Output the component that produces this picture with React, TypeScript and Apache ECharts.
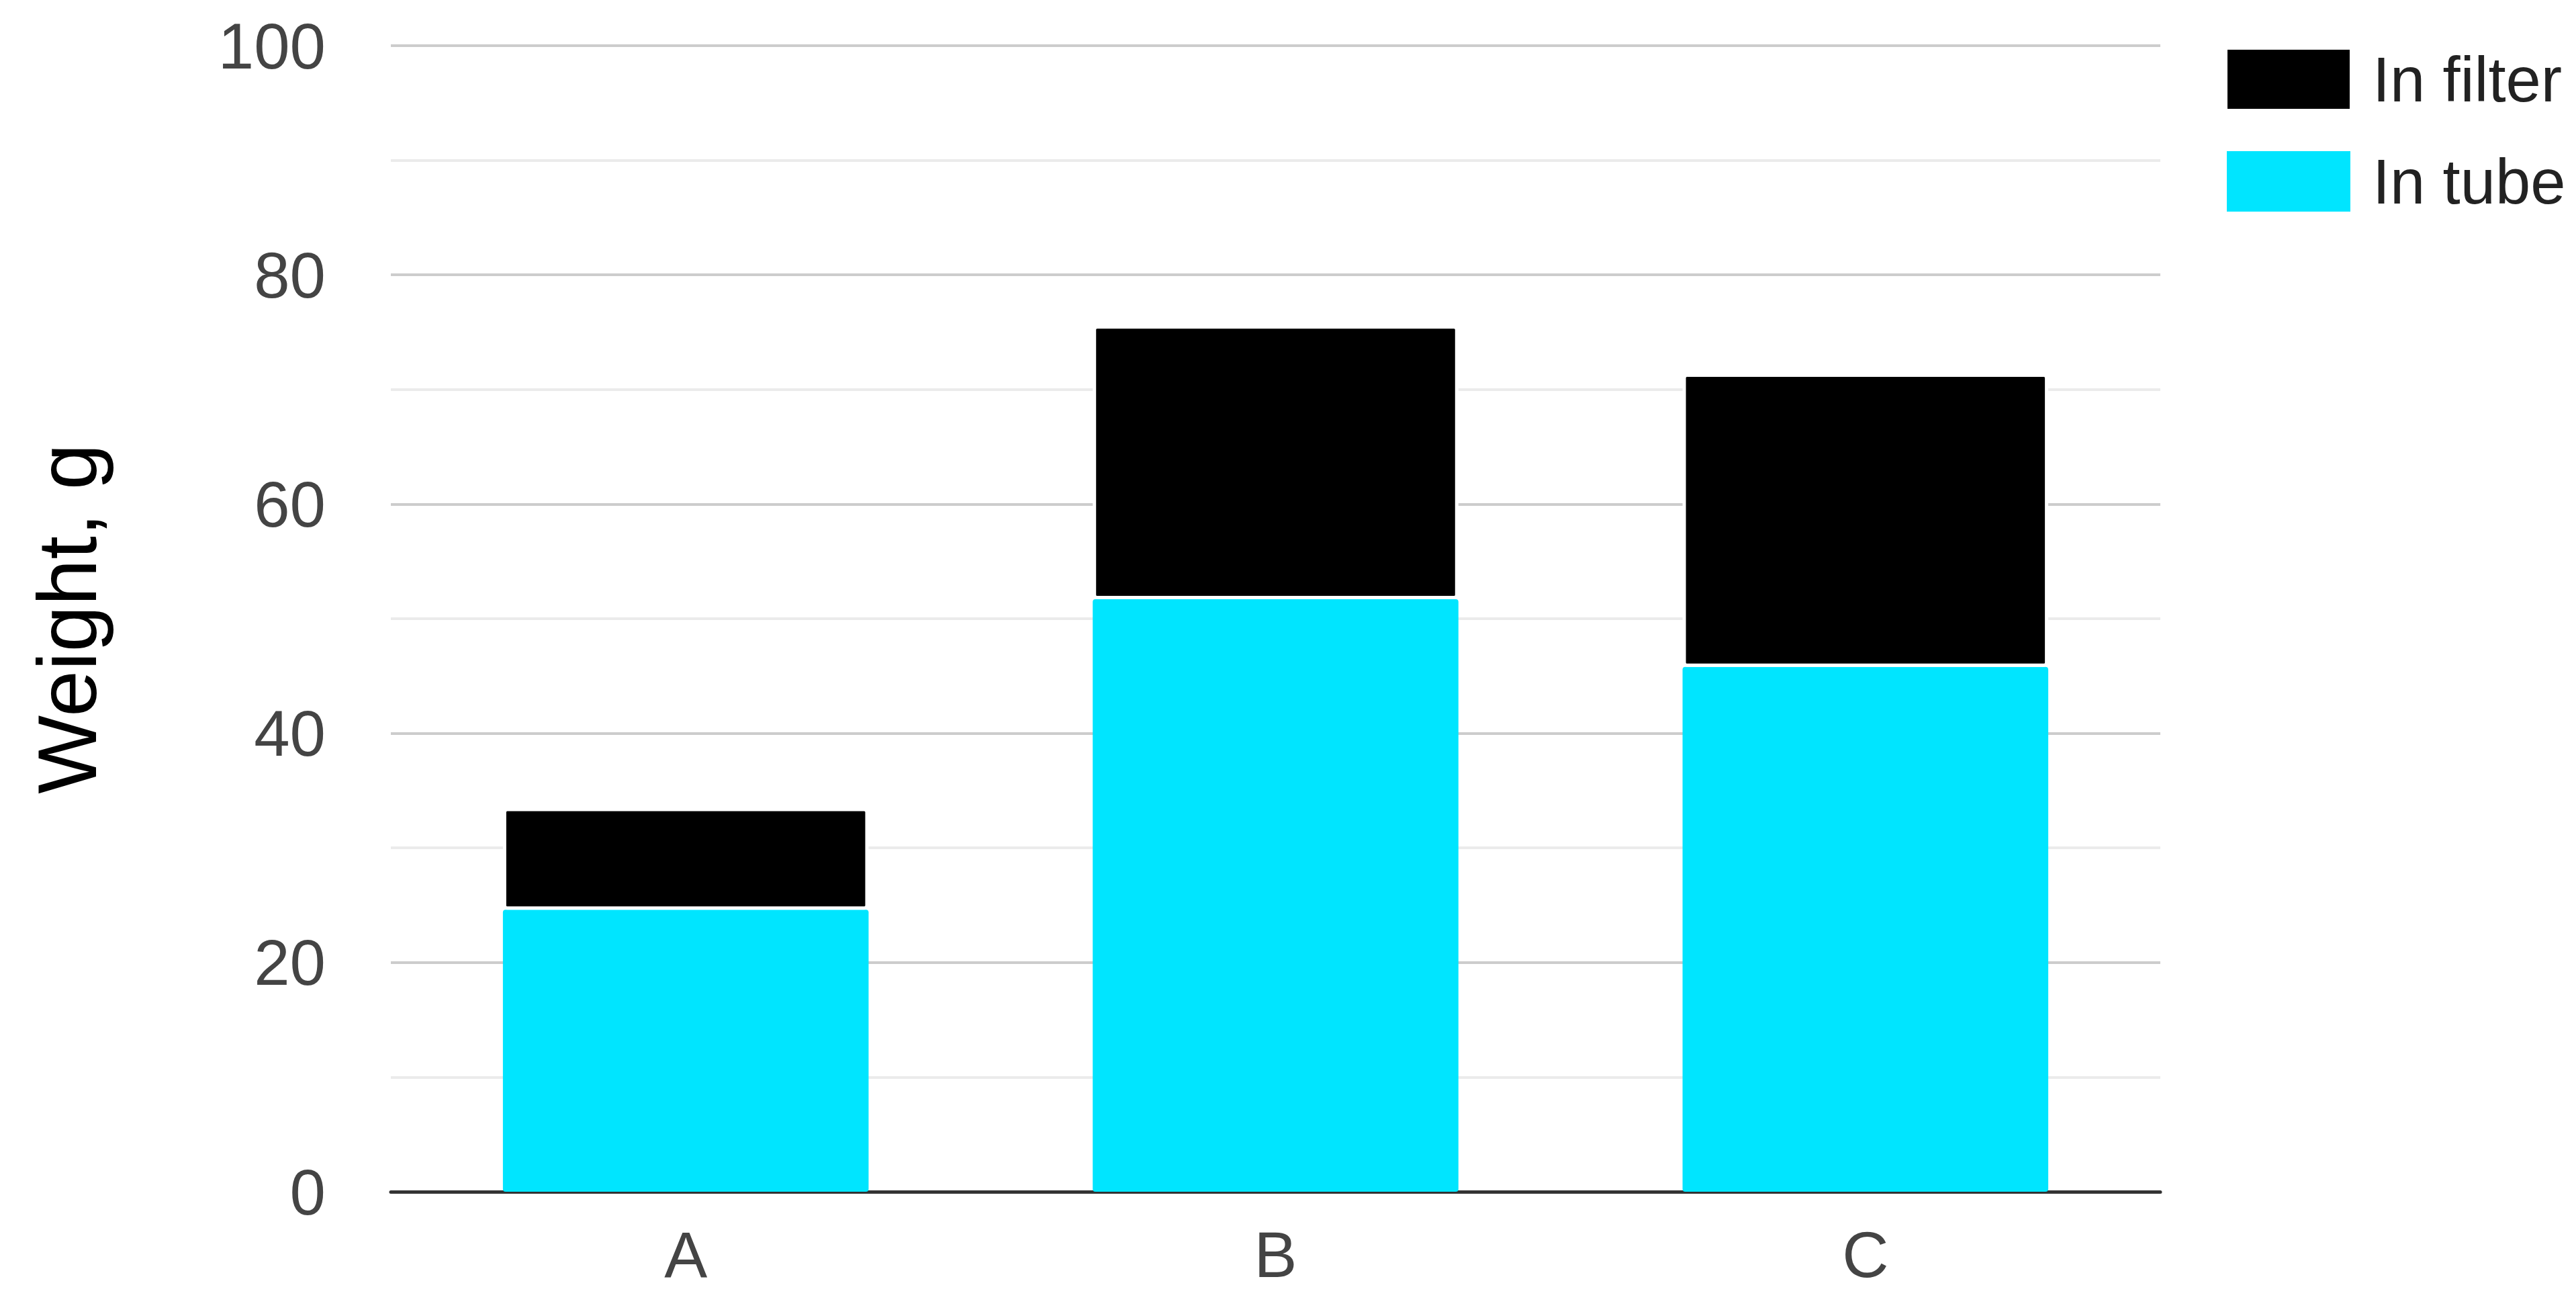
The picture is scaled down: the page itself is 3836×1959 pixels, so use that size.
import React, { useEffect, useRef } from "react";
import * as echarts from "echarts";

const categories = ["A", "B", "C"];
const inTube = [24.6, 51.7, 45.8];
const inFilter = [8.9, 23.9, 25.6];
const seriesNames = ["In filter", "In tube"];
const yMin = 0;
const yMax = 100;
const yMajorStep = 20;
const yTitle = "Weight, g";

const FONT = "Arial, 'Liberation Sans', sans-serif";

export default function App() {
  const ref = useRef<HTMLDivElement>(null);
  useEffect(() => {
    if (!ref.current) return;
    const chart = echarts.init(ref.current, undefined, { renderer: "svg" });
    chart.setOption({
      animation: false,
      backgroundColor: "#ffffff",
      textStyle: { fontFamily: FONT },
      grid: { left: 582, right: 619, top: 68, bottom: 185, containLabel: false },
      legend: {
        orient: "vertical",
        left: 3310,
        top: 66,
        itemWidth: 184,
        itemHeight: 90,
        itemGap: 58,
        icon: "rect",
        itemStyle: { borderRadius: 6 },
        data: [seriesNames[0], seriesNames[1]],
        textStyle: { fontSize: 94, color: "#222222", fontFamily: FONT, padding: [0, 0, 0, 28] },
      },
      xAxis: {
        type: "category",
        data: categories,
        axisLine: { show: true, lineStyle: { color: "#333333", width: 5 } },
        axisTick: { show: false },
        axisLabel: { fontSize: 96, color: "#444444", margin: 45, fontFamily: FONT },
      },
      yAxis: [
        {
          type: "value",
          min: yMin,
          max: yMax,
          interval: yMajorStep,
          name: yTitle,
          nameLocation: "middle",
          nameRotate: 90,
          nameGap: 420,
          nameTextStyle: { fontSize: 124, color: "#000000", fontFamily: FONT },
          axisLine: { show: false },
          axisTick: { show: false },
          axisLabel: { fontSize: 96, color: "#444444", margin: 97, fontFamily: FONT },
          splitLine: { show: true, lineStyle: { color: "#cccccc", width: 4 } },
          minorTick: { show: false, splitNumber: 2 },
          minorSplitLine: { show: true, lineStyle: { color: "#ebebeb", width: 4 } },
        },
      ],
      series: [
        {
          name: seriesNames[1],
          type: "bar",
          stack: "total",
          data: inTube,
          barWidth: "62%",
          itemStyle: { color: "#00e5ff", borderRadius: 4, borderColor: "#ffffff", borderWidth: 0 },
        },
        {
          name: seriesNames[0],
          type: "bar",
          stack: "total",
          data: inFilter,
          barWidth: "62%",
          itemStyle: { color: "#000000", borderRadius: 4, borderColor: "#ffffff", borderWidth: 5 },
        },
      ],
    });
    return () => chart.dispose();
  }, []);
  return (
    <div
      ref={ref}
      style={{ position: "fixed", left: 0, top: 0, width: 3836, height: 1959, background: "#fff" }}
    />
  );
}
